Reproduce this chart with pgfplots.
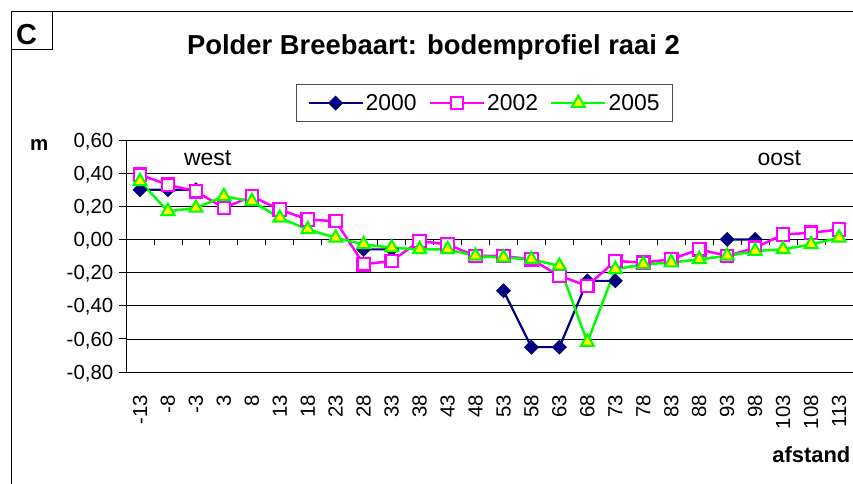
\documentclass[border=0pt]{standalone}
\usepackage{pgfplots}
\pgfplotsset{compat=1.18}
\usepackage{fontspec}
\setmainfont{Liberation Sans}
\definecolor{navyc}{HTML}{000080}
\definecolor{magc}{HTML}{FF00FF}
\definecolor{grnc}{HTML}{00FF00}
\definecolor{yelc}{HTML}{FFFF00}
\begin{document}
\begin{tikzpicture}
\useasboundingbox (-126bp,-112bp) rectangle (727bp,372bp);
\begin{axis}[
  at={(0,0)}, anchor=south west,
  scale only axis, width=727bp, height=232bp,
  xmin=-0.5, xmax=25.5, ymin=-0.8, ymax=0.6,
  clip=false,
  axis y line*=left, axis x line*=bottom,
  x axis line style={draw=none},
  y axis line style={black, line width=0.8bp, -},
  xtick={0,...,25},
  xticklabels={-13,-8,-3,3,8,13,18,23,28,33,38,43,48,53,58,63,68,73,78,83,88,93,98,103,108,113},
  ytick={-0.8,-0.6,-0.4,-0.2,0,0.2,0.4,0.6},
  yticklabels={{-0,80},{-0,60},{-0,40},{-0,20},{0,00},{0,20},{0,40},{0,60}},
  tick align=outside,
  xtick style={draw=none},
  ytick style={black, line width=0.8bp},
  major tick length=7bp,
  ymajorgrids,
  major grid style={black, line width=0.7bp},
  xticklabel style={rotate=90, anchor=east, inner sep=0bp, font=\fontsize{20.5}{24}\selectfont},
  yticklabel style={anchor=base east, inner sep=0bp, yshift=-7.2bp, font=\fontsize{20.5}{24}\selectfont},
  xticklabel shift=16bp,
  yticklabel shift=5.5bp,
  unbounded coords=jump,
  legend columns=3,
  legend style={at={(0.4931,1.159)}, anchor=center, draw=black!70, line width=0.8bp,
    font=\fontsize{23}{27}\selectfont, inner xsep=11bp, inner ysep=8bp,
    /tikz/every even column/.append style={column sep=10bp}},
  legend image code/.code={\draw[mark repeat=2,mark phase=2] plot coordinates {(0bp,0bp) (27bp,0bp) (54bp,0bp)};},
]
\pgfplotsinvokeforeach{0,...,24}{\draw[black, line width=0.8bp] (axis cs:#1+0.5,0) -- ++(0bp,-6bp);}
\addplot[navyc, line width=2.2bp, mark=square*, mark size=5bp, mark options={rotate=45, fill=navyc, draw=navyc, line width=0.5bp}]
  coordinates {(0,0.30) (1,0.30) (2,0.30) (3,nan) (8,-0.06) (9,-0.06) (10,nan) (13,-0.31) (14,-0.65) (15,-0.65) (16,-0.25) (17,-0.25) (18,nan) (21,0.00) (22,0.00)};
\addlegendentry{2000}
\addplot[magc, line width=2.5bp, mark=square*, mark size=6.2bp, mark options={fill=white, draw=magc, line width=2.2bp}]
  coordinates {(0,0.39) (1,0.33) (2,0.29) (3,0.19) (4,0.26) (5,0.18) (6,0.12) (7,0.11) (8,-0.15) (9,-0.13) (10,-0.01) (11,-0.03) (12,-0.10) (13,-0.10) (14,-0.12) (15,-0.22) (16,-0.28) (17,-0.13) (18,-0.14) (19,-0.12) (20,-0.06) (21,-0.10) (22,-0.05) (23,0.03) (24,0.04) (25,0.06)};
\addlegendentry{2002}
\addplot[grnc, line width=2.5bp, mark=triangle*, mark size=7.5bp, mark options={fill=yelc, draw=grnc, line width=2bp}]
  coordinates {(0,0.35) (1,0.17) (2,0.19) (3,0.26) (4,0.23) (5,0.13) (6,0.06) (7,0.01) (8,-0.03) (9,-0.05) (10,-0.06) (11,-0.06) (12,-0.10) (13,-0.11) (14,-0.12) (15,-0.16) (16,-0.62) (17,-0.18) (18,-0.15) (19,-0.14) (20,-0.12) (21,-0.10) (22,-0.07) (23,-0.06) (24,-0.03) (25,0.01)};
\addlegendentry{2005}
\end{axis}
% chart frame and label box
\draw[black, line width=1bp] (727bp,360bp) -- (-114bp,360bp) -- (-114bp,-112bp);
\draw[black, line width=1bp] (-114bp,360bp) rectangle (-73bp,322bp);
\node[anchor=base west, inner sep=0bp, font=\fontsize{29}{34}\selectfont\bfseries] at (-110bp,327bp) {C};
\node[anchor=base, inner sep=0bp, font=\fontsize{27.5}{32}\selectfont\bfseries] at (307.5bp,317bp) {Polder Breebaart: bodemprofiel raai 2};
\node[anchor=base west, inner sep=0bp, font=\fontsize{20.5}{24}\selectfont\bfseries] at (-96bp,221bp) {m};
\node[anchor=base west, inner sep=0bp, font=\fontsize{23}{27}\selectfont] at (58bp,206bp) {west};
\node[anchor=base west, inner sep=0bp, font=\fontsize{23}{27}\selectfont] at (631.5bp,206bp) {oost};
\node[anchor=base east, inner sep=0bp, font=\fontsize{22}{26}\selectfont\bfseries] at (724.5bp,-90bp) {afstand};
\end{tikzpicture}
\end{document}
